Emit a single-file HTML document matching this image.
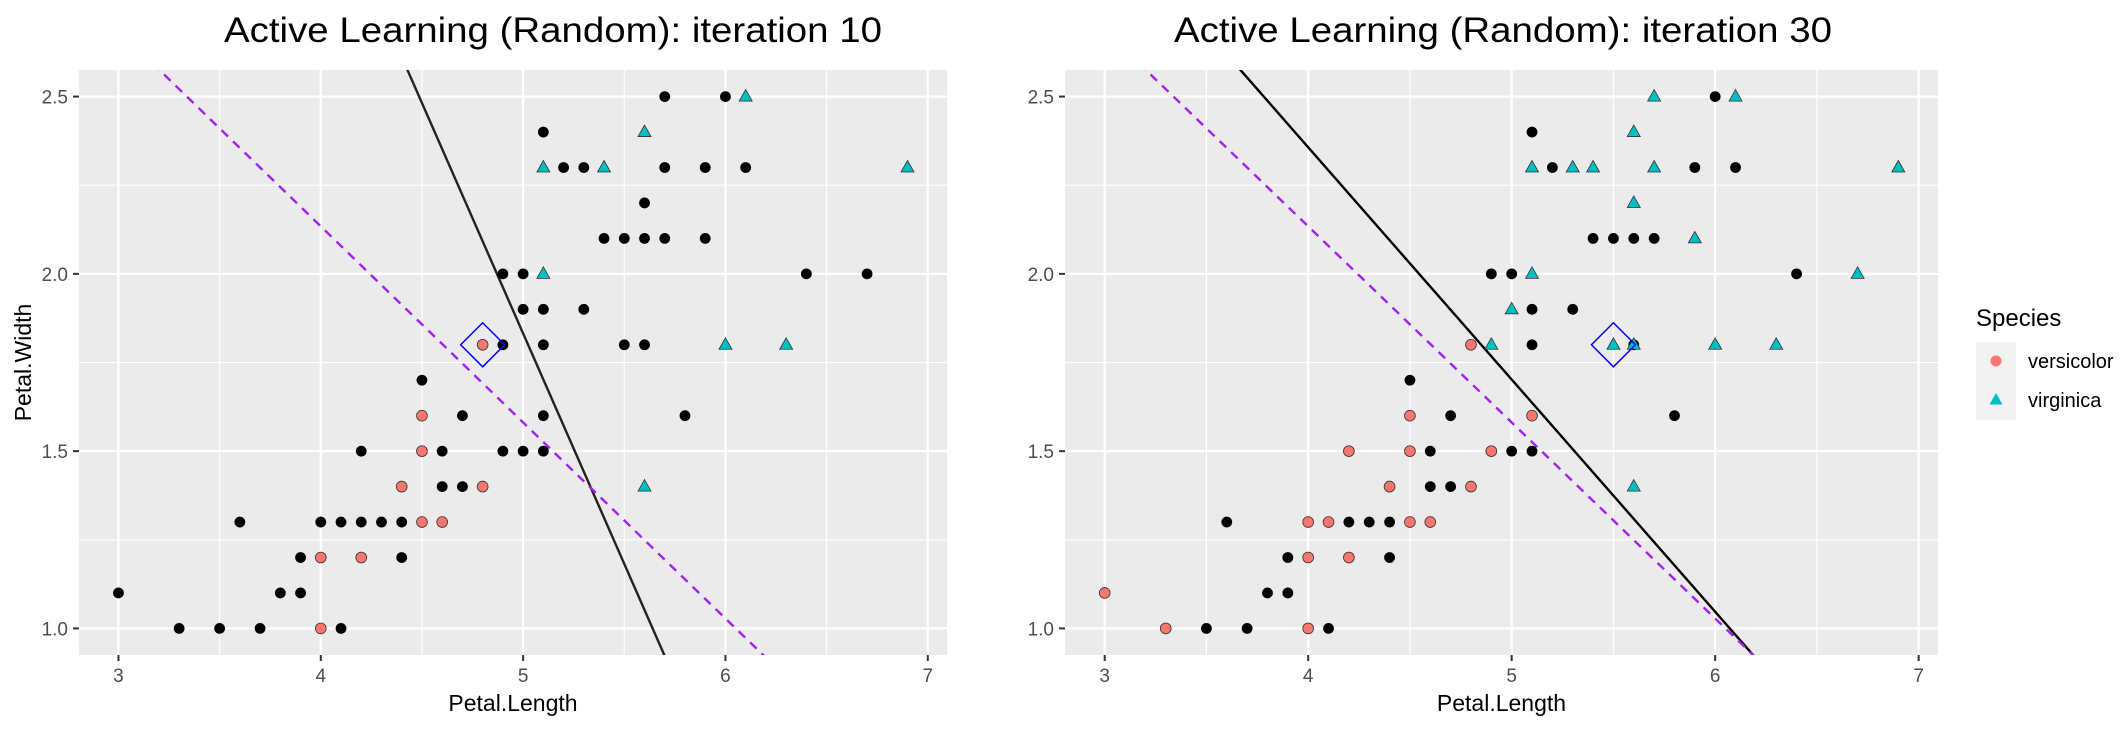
<!DOCTYPE html>
<html><head><meta charset="utf-8">
<style>
html,body{margin:0;padding:0;background:#fff;}
svg{display:block;font-family:"Liberation Sans",Arial,sans-serif;}
</style></head>
<body>
<svg id="chart" width="2128" height="736" viewBox="0 0 2128 736" xmlns="http://www.w3.org/2000/svg">
  <rect x="0" y="0" width="2128" height="736" fill="#ffffff"/>
  <g>
    <text x="1976" y="326" font-size="24" fill="#000">Species</text>
    <rect x="1976" y="342" width="40" height="78" fill="#f2f2f2"/>
    <circle cx="1996" cy="361" r="5.5" fill="#F8766D"/>
    <polygon points="1996,393 2002.5,404.5 1989.5,404.5" fill="#00BFC4"/>
    <text x="2028" y="368" font-size="20" fill="#000">versicolor</text>
    <text x="2028" y="407" font-size="20" fill="#000">virginica</text>
  </g>
</svg>
<script>
// ---- data (Petal.Length / Petal.Width) ----
const xTicks = [3, 4, 5, 6, 7];
const yTicks = [1.0, 1.5, 2.0, 2.5];
const yTickLabels = ["1.0", "1.5", "2.0", "2.5"];
const xMinor = [3.5, 4.5, 5.5, 6.5];
const yMinor = [1.25, 1.75, 2.25];

const titles = ["Active Learning (Random): iteration 10", "Active Learning (Random): iteration 30"];

const unlabeledX10 = [5.7,6.0, 5.1, 5.2,5.3,5.7,5.9,6.1, 5.6, 5.4,5.5,5.6,5.7,5.9, 4.9,5.0,6.4,6.7, 5.0,5.1,5.3, 4.8,4.9,5.1,5.5,5.6, 4.5, 4.7,5.1,5.8, 4.2,4.6,4.9,5.0,5.1, 4.6,4.7, 3.6,4.0,4.1,4.2,4.3,4.4, 3.9,4.4, 3.0,3.8,3.9, 3.3,3.5,3.7,4.1];
const unlabeledY10 = [2.5,2.5, 2.4, 2.3,2.3,2.3,2.3,2.3, 2.2, 2.1,2.1,2.1,2.1,2.1, 2.0,2.0,2.0,2.0, 1.9,1.9,1.9, 1.8,1.8,1.8,1.8,1.8, 1.7, 1.6,1.6,1.6, 1.5,1.5,1.5,1.5,1.5, 1.4,1.4, 1.3,1.3,1.3,1.3,1.3,1.3, 1.2,1.2, 1.1,1.1,1.1, 1.0,1.0,1.0,1.0];
const versicolorX10 = [4.8,4.5,4.5,4.4,4.8,4.5,4.6,4.0,4.2,4.0];
const versicolorY10 = [1.8,1.6,1.5,1.4,1.4,1.3,1.3,1.2,1.2,1.0];
const virginicaX10 = [6.1,5.6,5.1,5.4,6.9,5.1,6.0,6.3,5.6];
const virginicaY10 = [2.5,2.4,2.3,2.3,2.3,2.0,1.8,1.8,1.4];

const unlabeledX30 = [6.0, 5.1, 5.2,5.9,6.1, 5.4,5.5,5.6,5.7, 4.9,5.0,6.4, 5.1,5.3, 5.1,5.6, 4.5, 4.7,5.8, 4.6,5.0,5.1, 4.6,4.7, 3.6,4.2,4.3,4.4, 3.9,4.4, 3.8,3.9, 3.5,3.7,4.1];
const unlabeledY30 = [2.5, 2.4, 2.3,2.3,2.3, 2.1,2.1,2.1,2.1, 2.0,2.0,2.0, 1.9,1.9, 1.8,1.8, 1.7, 1.6,1.6, 1.5,1.5,1.5, 1.4,1.4, 1.3,1.3,1.3,1.3, 1.2,1.2, 1.1,1.1, 1.0,1.0,1.0];
const versicolorX30 = [4.8,4.5,5.1,4.2,4.5,4.9,4.4,4.8,4.0,4.1,4.5,4.6,4.0,4.2,3.0,3.3,4.0];
const versicolorY30 = [1.8,1.6,1.6,1.5,1.5,1.5,1.4,1.4,1.3,1.3,1.3,1.3,1.2,1.2,1.1,1.0,1.0];
const virginicaX30 = [5.7,6.1,5.6,5.1,5.3,5.4,5.7,6.9,5.6,5.9,5.1,6.7,5.0,4.9,5.5,5.6,6.0,6.3,5.6];
const virginicaY30 = [2.5,2.5,2.4,2.3,2.3,2.3,2.3,2.3,2.2,2.1,2.0,2.0,1.9,1.8,1.8,1.8,1.8,1.8,1.4];

const selectedX = [4.8, 5.5];
const selectedY = [1.8, 1.8];
// boundary lines: y = intercept + slope * x
const modelIntercept = [8.332, 4.977];
const modelSlope = [-1.30, -0.655];
const trueIntercept = [4.346, 4.346];
const trueSlope = [-0.553, -0.553];

const xDomain = [2.805, 7.095];
const yDomain = [0.925, 2.575];

const panels = [
  {l:79, r:947, t:70, b:655, tx:553, ux:unlabeledX10, uy:unlabeledY10, vx:versicolorX10, vy:versicolorY10, gx:virginicaX10, gy:virginicaY10, ylab:true},
  {l:1065, r:1938, t:70, b:655, tx:1503, ux:unlabeledX30, uy:unlabeledY30, vx:versicolorX30, vy:versicolorY30, gx:virginicaX30, gy:virginicaY30, ylab:false}
];

const NS = "http://www.w3.org/2000/svg";
const svg = document.getElementById("chart");
function mk(tag, attrs, parent){
  const e = document.createElementNS(NS, tag);
  for (const k in attrs) e.setAttribute(k, attrs[k]);
  (parent||svg).appendChild(e);
  return e;
}

panels.forEach((p, i) => {
  const sx = v => p.l + (v - xDomain[0]) / (xDomain[1] - xDomain[0]) * (p.r - p.l);
  const sy = v => p.b - (v - yDomain[0]) / (yDomain[1] - yDomain[0]) * (p.b - p.t);
  const g = mk("g", {});
  
  

  const bg = mk("rect", {x:p.l, y:p.t, width:p.r-p.l, height:p.b-p.t, fill:"#ebebeb"}, g);
  
  

  const clipId = "clip" + i;
  const cp = mk("clipPath", {id:clipId}, g);
  mk("rect", {x:p.l, y:p.t, width:p.r-p.l, height:p.b-p.t}, cp);

  xMinor.forEach(v => {
    const ln = mk("line", {x1:sx(v), x2:sx(v), y1:p.t, y2:p.b, stroke:"#fff", "stroke-width":1.1}, g);
    
    
  });
  yMinor.forEach(v => {
    const ln = mk("line", {x1:p.l, x2:p.r, y1:sy(v), y2:sy(v), stroke:"#fff", "stroke-width":1.1}, g);
    
    
  });
  xTicks.forEach(v => {
    const ln = mk("line", {x1:sx(v), x2:sx(v), y1:p.t, y2:p.b, stroke:"#fff", "stroke-width":2.2}, g);
    
    
    const tk = mk("line", {x1:sx(v), x2:sx(v), y1:p.b, y2:p.b+6, stroke:"#333", "stroke-width":2}, g);
    
    
    const tl = mk("text", {x:sx(v), y:p.b+27, "font-size":19, fill:"#4d4d4d", "text-anchor":"middle"}, g);
    tl.textContent = String(v);
    
    
  });
  yTicks.forEach((v, k) => {
    const ln = mk("line", {x1:p.l, x2:p.r, y1:sy(v), y2:sy(v), stroke:"#fff", "stroke-width":2.2}, g);
    
    
    const tk = mk("line", {x1:p.l-6, x2:p.l, y1:sy(v), y2:sy(v), stroke:"#333", "stroke-width":2}, g);
    
    
    const tl = mk("text", {x:p.l-11, y:sy(v)+7, "font-size":19, fill:"#4d4d4d", "text-anchor":"end"}, g);
    tl.textContent = yTickLabels[k];
    
    
  });

  const lg = mk("g", {"clip-path":"url(#"+clipId+")"}, g);
  
  
  const lineAt = (a, b, stroke, dash, name) => {
    const x1 = (yDomain[1] + 0.05 - a) / b, x2 = (yDomain[0] - 0.05 - a) / b;
    const ln = mk("line", {x1:sx(x1), y1:sy(a + b*x1), x2:sx(x2), y2:sy(a + b*x2), stroke:stroke, "stroke-width":2.4}, lg);
    if (dash) ln.setAttribute("stroke-dasharray", dash);
    
    
  };

  const pts = mk("g", {"clip-path":"url(#"+clipId+")"}, g);
  
  
  p.ux.forEach((v, k) => {
    const c = mk("circle", {cx:sx(v), cy:sy(p.uy[k]), r:5.4, fill:"#000"}, pts);
    
    
  });
  p.vx.forEach((v, k) => {
    const c = mk("circle", {cx:sx(v), cy:sy(p.vy[k]), r:5.4, fill:"#F8766D", stroke:"#333", "stroke-width":0.8}, pts);
    
    
  });
  p.gx.forEach((v, k) => {
    const cx = sx(v), cy = sy(p.gy[k]);
    const t = mk("polygon", {points:`${cx},${cy-7} ${cx+6.5},${cy+4.5} ${cx-6.5},${cy+4.5}`, fill:"#00BFC4", stroke:"#333", "stroke-width":0.8}, pts);
    
    
  });

  lineAt(modelIntercept[i], modelSlope[i], i === 0 ? "#222" : "#000", null, 'model-boundary-line');
  lineAt(trueIntercept[i], trueSlope[i], "#A020F0", "9,7", 'true-boundary-line');

  const qx = sx(selectedX[i]), qy = sy(selectedY[i]);
  const d = mk("polygon", {points:`${qx},${qy-22} ${qx+22},${qy} ${qx},${qy+22} ${qx-22},${qy}`, fill:"none", stroke:"#0000FF", "stroke-width":1.5}, g);
  
  

  const ti = mk("text", {x:p.tx, y:42, "font-size":35, fill:"#000", "text-anchor":"middle", textLength:658, lengthAdjust:"spacingAndGlyphs"}, g);
  ti.textContent = titles[i];
  
  

  const xt = mk("text", {x:(p.l+p.r)/2, y:711, "font-size":23, fill:"#000", "text-anchor":"middle"}, g);
  xt.textContent = "Petal.Length";
  
  

  if (p.ylab) {
    const yt = mk("text", {x:0, y:0, "font-size":23, fill:"#000", "text-anchor":"middle", transform:`translate(31,${(p.t+p.b)/2}) rotate(-90)`}, g);
    yt.textContent = "Petal.Width";
    
    
  }
});
</script>
</body></html>
